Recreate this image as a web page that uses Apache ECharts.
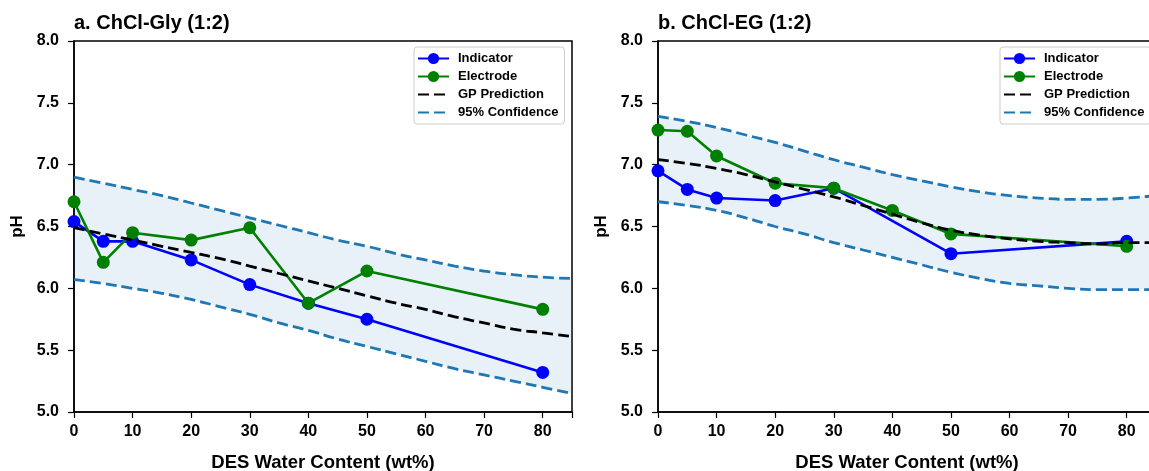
<!DOCTYPE html>
<html>
<head>
<meta charset="utf-8">
<script src="https://cdn.jsdelivr.net/npm/echarts@6/dist/echarts.min.js"></script>
<style>
  html, body { margin: 0; padding: 0; background: #fff; }
  #chart { width: 1149px; height: 471px; }
</style>
</head>
<body>
<div id="chart"></div>
<script>
// measured points
const waterContent = [0, 5, 10, 20, 30, 40, 50, 80];
const glyIndicator = [6.54, 6.38, 6.38, 6.23, 6.03, 5.88, 5.75, 5.32];
const glyElectrode = [6.70, 6.21, 6.45, 6.39, 6.49, 5.88, 6.14, 5.83];
const egIndicator = [6.95, 6.80, 6.73, 6.71, 6.81, null, 6.28, 6.38];
const egElectrode = [7.28, 7.27, 7.07, 6.85, 6.81, 6.63, 6.44, 6.34];

// GP curve grid
const gridX = [0, 5, 10, 15, 20, 25, 30, 35, 40, 45, 50, 55, 60, 65, 70, 75, 80, 85];
const glyGP = [6.49, 6.44, 6.39, 6.34, 6.29, 6.24, 6.18, 6.12, 6.06, 6.00, 5.94, 5.88, 5.83, 5.77, 5.72, 5.67, 5.64, 5.61];
const glyUpper = [6.90, 6.85, 6.80, 6.75, 6.69, 6.63, 6.57, 6.51, 6.45, 6.39, 6.34, 6.28, 6.23, 6.18, 6.14, 6.11, 6.09, 6.08];
const glyLower = [6.07, 6.04, 6.00, 5.96, 5.91, 5.85, 5.79, 5.72, 5.66, 5.59, 5.53, 5.47, 5.41, 5.35, 5.30, 5.25, 5.20, 5.15];
const egGP = [7.04, 7.01, 6.97, 6.92, 6.86, 6.80, 6.74, 6.67, 6.60, 6.53, 6.47, 6.43, 6.40, 6.38, 6.37, 6.36, 6.37, 6.37];
const egUpper = [7.39, 7.35, 7.30, 7.24, 7.18, 7.11, 7.04, 6.98, 6.92, 6.87, 6.82, 6.78, 6.75, 6.73, 6.72, 6.72, 6.73, 6.75];
const egLower = [6.70, 6.67, 6.63, 6.57, 6.50, 6.44, 6.37, 6.31, 6.25, 6.19, 6.13, 6.08, 6.04, 6.02, 6.00, 5.99, 5.99, 5.99];

const titles = ['a. ChCl-Gly (1:2)', 'b. ChCl-EG (1:2)'];
const xTicks = [0, 10, 20, 30, 40, 50, 60, 70, 80];

const FONT = 'Liberation Sans, Arial, sans-serif';
const pair = (xs, ys) => xs.map((x, i) => [x, ys[i]]).filter(p => p[1] != null);

const chart = echarts.init(document.getElementById('chart'));

const lefts = [74, 658];
const panels = [
  { ind: glyIndicator, ele: glyElectrode, gp: glyGP, up: glyUpper, lo: glyLower },
  { ind: egIndicator, ele: egElectrode, gp: egGP, up: egUpper, lo: egLower }
];

const grid = lefts.map(l => ({
  left: l, top: 41, width: 498, height: 371, outerBoundsMode: 'none',
  show: true, borderColor: '#000', borderWidth: 1.5, backgroundColor: 'transparent'
}));

const xAxis = lefts.map((l, i) => ({
  type: 'value', gridIndex: i, min: 0, max: 85, interval: 10,
  name: 'DES Water Content (wt%)', nameLocation: 'middle', nameGap: 41,
  nameTextStyle: { fontFamily: FONT, fontWeight: 'bold', fontSize: 18.5, color: '#000' },
  axisLine: { lineStyle: { color: '#000', width: 1.5 } },
  axisTick: { length: 6, lineStyle: { color: '#000', width: 1.2 } },
  axisLabel: {
    margin: 12, color: '#000', fontFamily: FONT, fontWeight: 'bold', fontSize: 16,
    formatter: v => (xTicks.includes(v) ? String(v) : '')
  },
  splitLine: { show: false }
}));

const yAxis = lefts.map((l, i) => ({
  type: 'value', gridIndex: i, min: 5, max: 8, interval: 0.5,
  name: 'pH', nameLocation: 'middle', nameGap: 48, nameRotate: 90,
  nameTextStyle: { fontFamily: FONT, fontWeight: 'bold', fontSize: 17, color: '#000' },
  axisLine: { show: true, lineStyle: { color: '#000', width: 1.5 } },
  axisTick: { show: true, length: 6, lineStyle: { color: '#000', width: 1.2 } },
  axisLabel: {
    margin: 15, color: '#000', fontFamily: FONT, fontWeight: 'bold', fontSize: 16,
    formatter: v => v.toFixed(1)
  },
  splitLine: { show: false }
}));

const series = [];
panels.forEach((p, i) => {
  // confidence band between upper and lower curves
  series.push({
    name: 'band-' + i, type: 'custom', xAxisIndex: i, yAxisIndex: i,
    data: [[gridX[0], p.lo[0]]], silent: true, z: 1,
    renderItem: (params, api) => {
      const pts = gridX.map((x, k) => api.coord([x, p.up[k]]));
      for (let k = gridX.length - 1; k >= 0; k--) pts.push(api.coord([gridX[k], p.lo[k]]));
      return {
        type: 'polygon', shape: { points: pts },
        style: { fill: 'rgba(31,119,180,0.1)', stroke: null }
      };
    }
  });
  ['up', 'lo'].forEach(k => series.push({
    name: '95% Confidence', type: 'line', xAxisIndex: i, yAxisIndex: i,
    data: pair(gridX, p[k]), smooth: true, symbol: 'none',
    lineStyle: { color: '#1f77b4', width: 2.8, type: [11, 5] },
    itemStyle: { color: '#1f77b4' }, z: 2
  }));
  series.push({
    name: 'GP Prediction', type: 'line', xAxisIndex: i, yAxisIndex: i,
    data: pair(gridX, p.gp), smooth: true, symbol: 'none',
    lineStyle: { color: '#000', width: 2.8, type: [11, 5] },
    itemStyle: { color: '#000' }, z: 4
  });
  series.push({
    name: 'Indicator', type: 'line', xAxisIndex: i, yAxisIndex: i,
    data: pair(waterContent, p.ind), symbol: 'circle', symbolSize: 13,
    lineStyle: { color: '#0000ff', width: 2.6 }, itemStyle: { color: '#0000ff' }, z: 3
  });
  series.push({
    name: 'Electrode', type: 'line', xAxisIndex: i, yAxisIndex: i,
    data: pair(waterContent, p.ele), symbol: 'circle', symbolSize: 13,
    lineStyle: { color: '#008000', width: 2.6 }, itemStyle: { color: '#008000' }, z: 3
  });
});

const legend = [414, 1000].map(l => ({
  left: l, top: 47, orient: 'vertical', itemGap: 5, itemWidth: 31, itemHeight: 14,
  padding: [5, 6, 5, 3], borderColor: '#ccc', borderWidth: 1, borderRadius: 3,
  backgroundColor: 'rgba(255,255,255,0.8)', selectedMode: false,
  data: [
    'Indicator', 'Electrode',
    { name: 'GP Prediction', itemStyle: { opacity: 0 } },
    { name: '95% Confidence', itemStyle: { opacity: 0 } }
  ],
  textStyle: { fontFamily: FONT, fontWeight: 'bold', fontSize: 13, color: '#000', padding: [0, 0, 0, 4] }
}));

chart.setOption({
  animation: false,
  title: titles.map((t, i) => ({
    text: t, left: lefts[i], top: 13, padding: 0,
    textStyle: { fontFamily: FONT, fontWeight: 'bold', fontSize: 20, color: '#000' }
  })),
  grid, xAxis, yAxis, legend, series
});
</script>
</body>
</html>
